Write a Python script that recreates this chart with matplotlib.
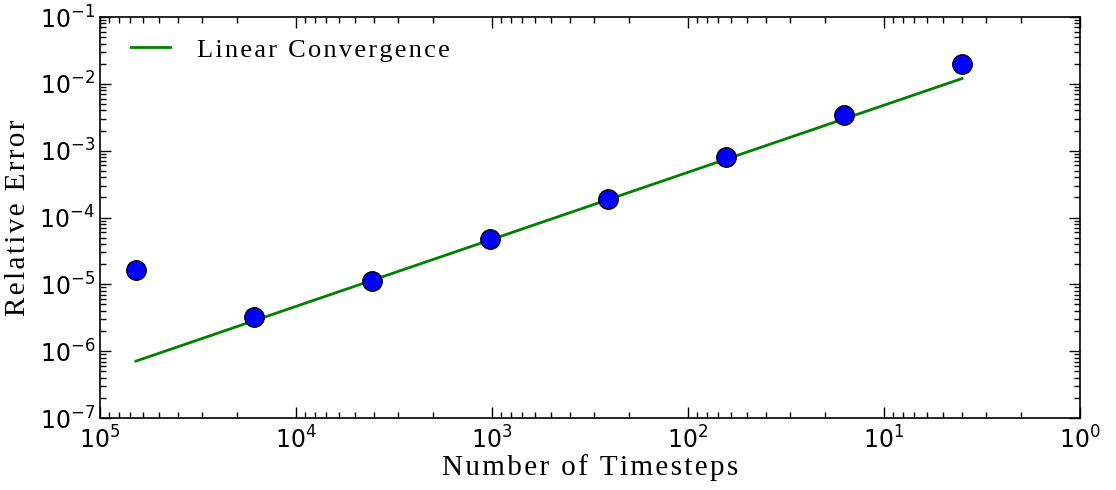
import matplotlib
matplotlib.use('Agg')
import matplotlib.pyplot as plt

# timestep counts and measured relative errors
n_steps = [65536, 16384, 4096, 1024, 256, 64, 16, 4]
rel_err = [1.63e-5, 3.2e-6, 1.12e-5, 4.75e-5, 1.88e-4, 8.0e-4, 3.4e-3, 1.95e-2]

# first-order reference line, drawn between the end points
ref_steps = [65536, 4]
ref_err = [7.1e-7, 1.2e-2]


def tracked(s):
    # a little extra letter spacing using hair spaces
    return '\u200a'.join(s)


serif = {'family': ['Liberation Serif', 'DejaVu Serif'], 'size': 21}

fig = plt.figure(figsize=(11.16, 4.9), dpi=100)
ax = fig.add_axes([100 / 1116, 1 - 418 / 490, 980 / 1116, 401 / 490])

ax.loglog(ref_steps, ref_err, color='green', lw=2, label=tracked('Linear Convergence'))
ax.loglog(n_steps, rel_err, 'o', color='blue', markersize=14,
          markeredgecolor='black', markeredgewidth=1, zorder=3)

ax.set_xlim(1e5, 1e0)
ax.set_ylim(1e-7, 1e-1)

ax.set_xlabel(tracked('Number of Timesteps'), fontdict=serif, labelpad=0)
ax.set_ylabel(tracked('Relative Error'), fontdict=serif, labelpad=6)

ax.tick_params(which='both', direction='in', top=True, right=True, labelsize=17)
ax.tick_params(which='major', length=8, width=1)
ax.tick_params(which='minor', length=4, width=1)
ax.tick_params(axis='x', pad=6)
for s in ax.spines.values():
    s.set_linewidth(1.2)

ax.legend(loc='upper left', bbox_to_anchor=(0.01, 1.0), frameon=False,
          prop={'family': ['Liberation Serif', 'DejaVu Serif'], 'size': 19},
          handlelength=1.5, handletextpad=1.0, borderaxespad=0.4)

fig.savefig('out.png', dpi=100)
